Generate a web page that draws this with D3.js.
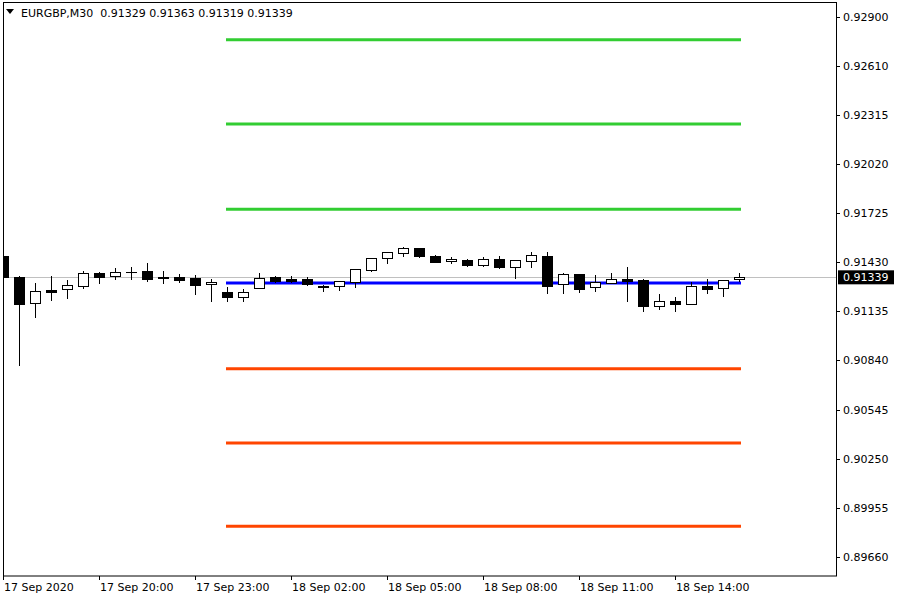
<!DOCTYPE html>
<html><head><meta charset="utf-8">
<script src="https://cdn.jsdelivr.net/npm/d3@7"></script>
<style>body{margin:0;background:#fff}svg{display:block}text{font-family:"DejaVu Sans",Verdana,sans-serif;font-size:11px;white-space:pre}</style>
</head><body>
<svg id="c" width="900" height="600"></svg>
<script>
const symbol = "EURGBP,M30";
const times = ["17 Sep 17:00","17 Sep 17:30","17 Sep 18:00","17 Sep 18:30","17 Sep 19:00","17 Sep 19:30","17 Sep 20:00","17 Sep 20:30","17 Sep 21:00","17 Sep 21:30","17 Sep 22:00","17 Sep 22:30","17 Sep 23:00","17 Sep 23:30","18 Sep 00:00","18 Sep 00:30","18 Sep 01:00","18 Sep 01:30","18 Sep 02:00","18 Sep 02:30","18 Sep 03:00","18 Sep 03:30","18 Sep 04:00","18 Sep 04:30","18 Sep 05:00","18 Sep 05:30","18 Sep 06:00","18 Sep 06:30","18 Sep 07:00","18 Sep 07:30","18 Sep 08:00","18 Sep 08:30","18 Sep 09:00","18 Sep 09:30","18 Sep 10:00","18 Sep 10:30","18 Sep 11:00","18 Sep 11:30","18 Sep 12:00","18 Sep 12:30","18 Sep 13:00","18 Sep 13:30","18 Sep 14:00","18 Sep 14:30","18 Sep 15:00","18 Sep 15:30","18 Sep 16:00"];
const open  = [0.91467,0.91341,0.91184,0.91262,0.91268,0.91287,0.91365,0.91347,0.91371,0.91377,0.91341,0.91341,0.91335,0.91299,0.91250,0.91220,0.91275,0.91341,0.91329,0.91329,0.91287,0.91287,0.91311,0.91383,0.91455,0.91485,0.91515,0.91467,0.91434,0.91443,0.91413,0.91449,0.91401,0.91437,0.91467,0.91299,0.91359,0.91281,0.91305,0.91329,0.91323,0.91166,0.91196,0.91178,0.91287,0.91275,0.91329];
const high  = [0.91509,0.91347,0.91305,0.91347,0.91323,0.91377,0.91371,0.91395,0.91401,0.91425,0.91377,0.91359,0.91353,0.91329,0.91281,0.91268,0.91365,0.91347,0.91347,0.91341,0.91293,0.91317,0.91389,0.91455,0.91491,0.91521,0.91515,0.91473,0.91461,0.91449,0.91461,0.91467,0.91443,0.91491,0.91491,0.91365,0.91359,0.91353,0.91365,0.91401,0.91329,0.91238,0.91220,0.91311,0.91329,0.91323,0.91363];
const low   = [0.91339,0.90811,0.91100,0.91202,0.91214,0.91275,0.91305,0.91329,0.91329,0.91317,0.91305,0.91311,0.91238,0.91196,0.91196,0.91196,0.91275,0.91311,0.91311,0.91293,0.91256,0.91262,0.91281,0.91377,0.91425,0.91467,0.91461,0.91428,0.91425,0.91407,0.91407,0.91395,0.91335,0.91401,0.91244,0.91244,0.91250,0.91256,0.91305,0.91196,0.91136,0.91148,0.91136,0.91178,0.91244,0.91226,0.91319];
const close = [0.91341,0.91178,0.91256,0.91250,0.91293,0.91365,0.91341,0.91371,0.91371,0.91329,0.91332,0.91323,0.91293,0.91311,0.91220,0.91250,0.91335,0.91317,0.91317,0.91299,0.91281,0.91317,0.91389,0.91455,0.91491,0.91515,0.91467,0.91431,0.91449,0.91413,0.91449,0.91401,0.91443,0.91473,0.91287,0.91359,0.91268,0.91311,0.91329,0.91317,0.91166,0.91196,0.91178,0.91287,0.91268,0.91323,0.91339];
const yTicks = [0.92900,0.92610,0.92315,0.92020,0.91725,0.91430,0.91135,0.90840,0.90545,0.90250,0.89955,0.89660];
const xTickLabels = ["17 Sep 2020","17 Sep 20:00","17 Sep 23:00","18 Sep 02:00","18 Sep 05:00","18 Sep 08:00","18 Sep 11:00","18 Sep 14:00"];
const xTickTimes  = ["17 Sep 17:00","17 Sep 20:00","17 Sep 23:00","18 Sep 02:00","18 Sep 05:00","18 Sep 08:00","18 Sep 11:00","18 Sep 14:00"];
const levelNames  = ["R3","R2","R1","P","S1","S2","S3"];
const levelValues = [0.92765,0.92259,0.91747,0.91305,0.90790,0.90344,0.89845];
const levelColors = ["#32cd32","#32cd32","#32cd32","#0000ff","#ff4500","#ff4500","#ff4500"];
const levelStart = "18 Sep 00:00";
const lastPrice = 0.91339;

const svg = d3.select("#c");
const L=3, R=836, T=3, B=576;
const x = d3.scalePoint().domain(times).range([3, 3+16*(times.length-1)]);
const y = d3.scaleLinear().domain([0.8966, 0.929]).range([557, 17.3]);
const ry = v => Math.round(y(v));
const bars = times.map((t,i)=>({t,o:open[i],h:high[i],l:low[i],c:close[i]}));

const plot = svg.append("g");
svg.append("defs").append("clipPath").attr("id","clip").append("rect").attr("x",L).attr("y",T).attr("width",R-L).attr("height",B-T);
const inner = plot.append("g").attr("clip-path","url(#clip)");

// current price line
inner.append("line").attr("x1",L).attr("x2",R).attr("y1",Math.round(y(lastPrice))+0.5).attr("y2",Math.round(y(lastPrice))+0.5)
  .attr("stroke","#c0c0c0").attr("stroke-width",1);

// pivot levels
inner.selectAll(".lvl").data(levelValues).join("line").attr("class","lvl")
  .attr("x1",x(levelStart)-1).attr("x2",x(times[times.length-1])+2)
  .attr("y1",d=>y(d)).attr("y2",d=>y(d))
  .attr("stroke",(d,i)=>levelColors[i]).attr("stroke-width",3);

// candles
const cg = inner.selectAll(".bar").data(bars).join("g").attr("class","bar");
cg.append("line").attr("x1",d=>x(d.t)+0.5).attr("x2",d=>x(d.t)+0.5)
  .attr("y1",d=>ry(d.h)).attr("y2",d=>ry(d.l)+1).attr("stroke","#000").attr("stroke-width",1);
cg.append("rect").attr("x",d=>x(d.t)-4.5).attr("width",10)
  .attr("y",d=>ry(Math.max(d.o,d.c))+0.5)
  .attr("height",d=>Math.max(0.01, ry(Math.min(d.o,d.c))-ry(Math.max(d.o,d.c))))
  .attr("fill",d=>d.c>=d.o?"#fff":"#000").attr("stroke","#000").attr("stroke-width",1);

// frame
svg.append("rect").attr("x",L+0.5).attr("y",T-0.5).attr("width",R-L).attr("height",B-T+0.5)
  .attr("fill","none").attr("stroke","#000").attr("stroke-width",1);

// y axis
const ya = svg.append("g");
ya.selectAll("line").data(yTicks).join("line")
  .attr("x1",R+0.5).attr("x2",R+4).attr("y1",d=>Math.round(y(d))+0.5).attr("y2",d=>Math.round(y(d))+0.5).attr("stroke","#000");
ya.selectAll("text").data(yTicks).join("text")
  .attr("x",843).attr("y",d=>y(d)+4).attr("fill","#000").text(d=>d.toFixed(5));

// last price label
const lpY = y(lastPrice);
svg.append("rect").attr("x",838).attr("y",lpY-7).attr("width",56).attr("height",14).attr("fill","#000");
svg.append("text").attr("x",843).attr("y",lpY+4).attr("fill","#fff").text(lastPrice.toFixed(5));

// x axis
const xa = svg.append("g");
xa.selectAll("line").data(xTickTimes).join("line")
  .attr("x1",d=>x(d)+0.5).attr("x2",d=>x(d)+0.5).attr("y1",B).attr("y2",B+4).attr("stroke","#000");
xa.selectAll("text").data(xTickLabels).join("text")
  .attr("x",(d,i)=>x(xTickTimes[i])+1).attr("y",591).attr("fill","#000").text(d=>d);

// title
svg.append("path").attr("d","M6,9 L14,9 L10,14 Z").attr("fill","#000");
svg.append("text").attr("x",21).attr("y",17).attr("fill","#000").attr("xml:space","preserve")
  .text(symbol+"  "+[open[46],high[46],low[46],close[46]].map(v=>v.toFixed(5)).join(" "));
</script>
</body></html>
